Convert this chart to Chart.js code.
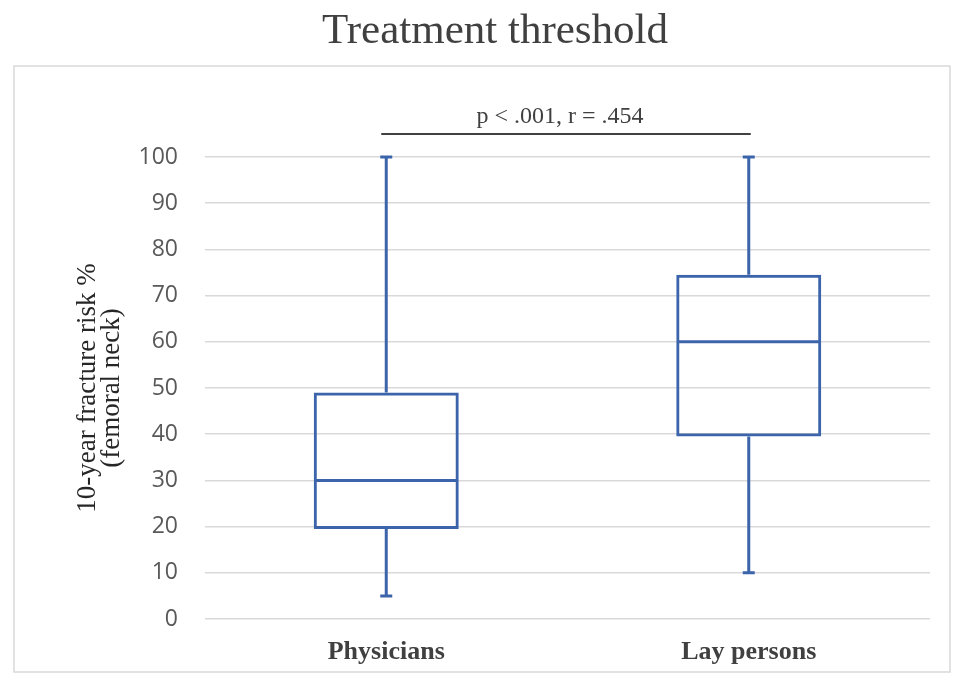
<!DOCTYPE html>
<html>
<head>
<meta charset="utf-8">
<script src="https://cdn.jsdelivr.net/npm/chart.js@4.4.0/dist/chart.umd.min.js"></script>
<style>
  html, body { margin: 0; padding: 0; background: #fff; }
  #wrap { width: 963px; height: 681px; position: relative; }
</style>
</head>
<body>
<div id="wrap"><canvas id="chart"></canvas></div>
<script>
// box plot values
const groups = ['Physicians', 'Lay persons'];
const mins = [5, 10];
const q1s = [19.5, 39.5];
const medians = [30, 60];
const q3s = [49, 74.5];
const maxs = [100, 100];
const yTicks = [0, 10, 20, 30, 40, 50, 60, 70, 80, 90, 100];
const sigText = 'p < .001, r = .454';

const blue = '#3c64ab';
const serif = '"Liberation Serif", "Times New Roman", serif';

// outer frame + significance bar + whiskers/median/caps
const boxPlotExtras = {
  id: 'boxPlotExtras',
  beforeDraw(chart) {
    const c = chart.ctx;
    c.save();
    c.fillStyle = '#fff';
    c.fillRect(0, 0, chart.width, chart.height);
    c.strokeStyle = '#d9d9d9';
    c.lineWidth = 1.5;
    c.strokeRect(14, 66, 936, 606);
    c.restore();
  },
  afterDatasetsDraw(chart) {
    const c = chart.ctx;
    const x = chart.scales.x, y = chart.scales.y;
    c.save();
    c.strokeStyle = blue;
    c.lineWidth = 3;
    groups.forEach((g, i) => {
      const cx = x.getPixelForValue(i);
      const half = chart.getDatasetMeta(0).data[i].width / 2;
      const cap = 6;
      c.beginPath();
      // upper whisker
      c.moveTo(cx, y.getPixelForValue(q3s[i]));
      c.lineTo(cx, y.getPixelForValue(maxs[i]));
      c.moveTo(cx - cap, y.getPixelForValue(maxs[i]));
      c.lineTo(cx + cap, y.getPixelForValue(maxs[i]));
      // lower whisker
      c.moveTo(cx, y.getPixelForValue(q1s[i]));
      c.lineTo(cx, y.getPixelForValue(mins[i]));
      c.moveTo(cx - cap, y.getPixelForValue(mins[i]));
      c.lineTo(cx + cap, y.getPixelForValue(mins[i]));
      // median
      c.moveTo(cx - half + 1, y.getPixelForValue(medians[i]));
      c.lineTo(cx + half - 1, y.getPixelForValue(medians[i]));
      c.stroke();
    });

    // significance bracket
    const x1 = x.getPixelForValue(0) - 5;
    const x2 = x.getPixelForValue(1) + 2;
    const ly = chart.chartArea.top - 23;
    c.strokeStyle = '#000';
    c.lineWidth = 1.5;
    c.beginPath();
    c.moveTo(x1, ly);
    c.lineTo(x2, ly);
    c.stroke();
    c.fillStyle = '#404040';
    c.font = '24px ' + serif;
    c.textAlign = 'center';
    c.textBaseline = 'alphabetic';
    c.fillText(sigText, (x1 + x2) / 2 - 6, ly - 11);
    c.restore();
  }
};

new Chart(document.getElementById('chart'), {
  type: 'bar',
  data: {
    labels: groups,
    datasets: [{
      label: 'Interquartile range',
      data: q1s.map((v, i) => [v, q3s[i]]),
      backgroundColor: 'rgba(0,0,0,0)',
      borderColor: blue,
      borderWidth: 3,
      borderSkipped: false,
      categoryPercentage: 1,
      barPercentage: 0.4
    }]
  },
  options: {
    responsive: true,
    maintainAspectRatio: false,
    animation: false,
    layout: { padding: { top: 6, left: 60, right: 33, bottom: 0 } },
    plugins: {
      legend: { display: false },
      tooltip: { enabled: false },
      title: {
        display: true,
        text: 'Treatment threshold',
        color: '#404040',
        font: { family: serif, size: 43, weight: 'normal' },
        padding: { top: 0, bottom: 99.4 }
      }
    },
    scales: {
      x: {
        afterFit(scale) { scale.height = 62; },
        grid: { display: false, drawTicks: false },
        border: { display: false },
        ticks: {
          color: '#404040',
          padding: 18,
          font: { family: serif, size: 26, weight: 'bold' }
        }
      },
      y: {
        min: 0,
        max: 100,
        afterFit(scale) { scale.width = 145; },
        afterBuildTicks(scale) { scale.ticks = yTicks.map(v => ({ value: v })); },
        grid: { color: '#d9d9d9', lineWidth: 1.5, drawTicks: false },
        border: { display: false },
        ticks: {
          color: '#595959',
          padding: 27,
          font: { family: '"Open Sans", "Liberation Sans", sans-serif', size: 23 }
        },
        title: {
          display: true,
          text: ['10-year fracture risk %', '(femoral neck)'],
          color: '#262626',
          font: { family: serif, size: 27, lineHeight: 0.92 },
          padding: { top: 15, bottom: 0 }
        }
      }
    }
  },
  plugins: [boxPlotExtras]
});
</script>
</body>
</html>
